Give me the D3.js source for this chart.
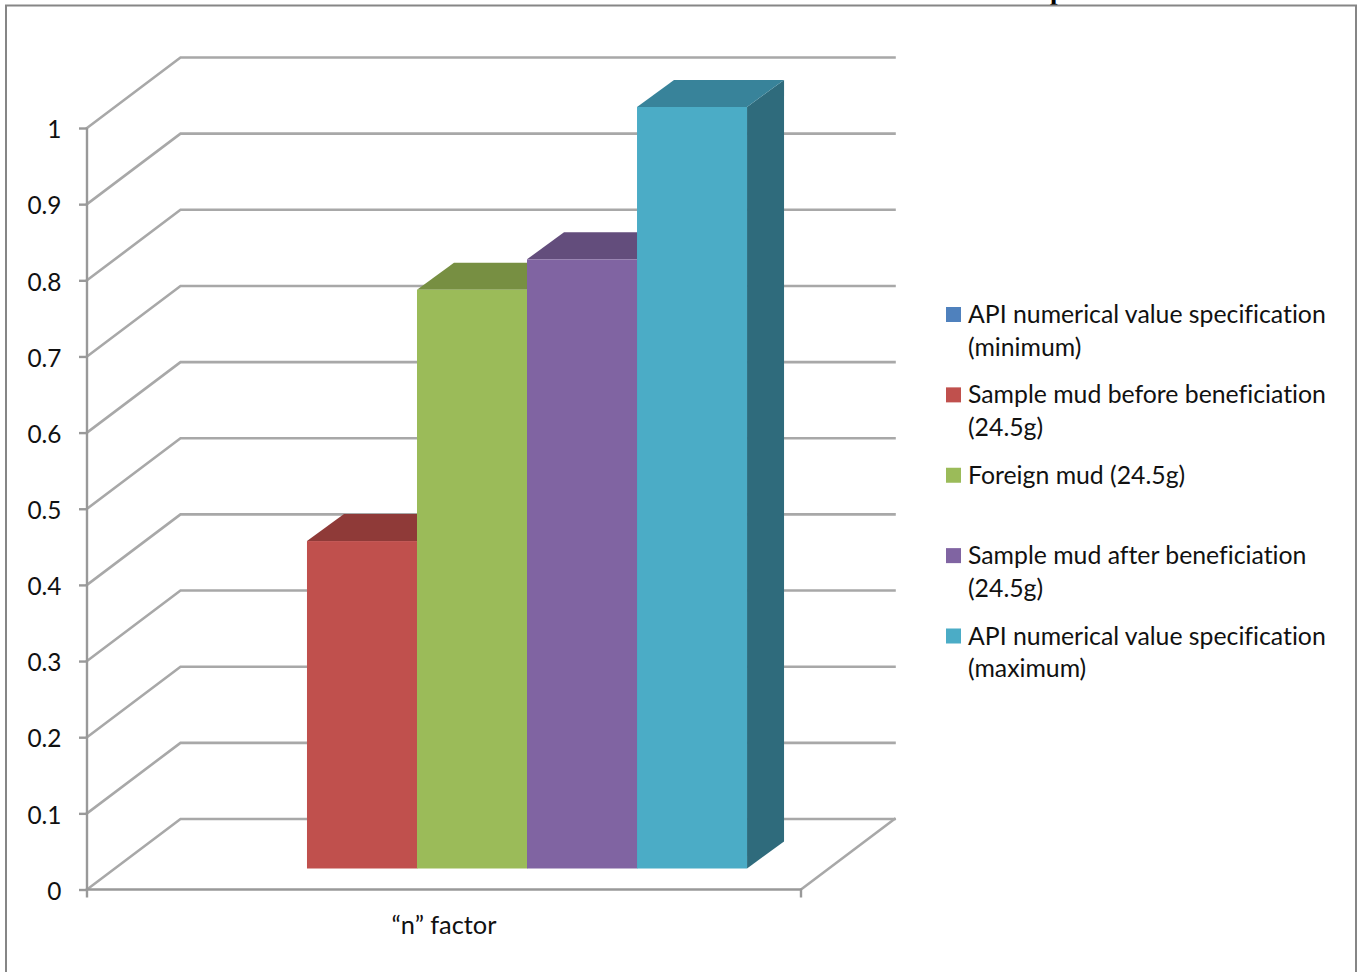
<!DOCTYPE html>
<html>
<head>
<meta charset="utf-8">
<script src="https://cdn.jsdelivr.net/npm/d3@7"></script>
<style>
  html, body { margin: 0; padding: 0; background: #fff; overflow: hidden; }
  svg { display: block; }
  text { font-family: Lato, "Open Sans", sans-serif; fill: #111; font-variant-ligatures: none; }
</style>
</head>
<body>
<svg id="chart" width="1363" height="972"></svg>
<script>
// Chart content
const categories = ["\u201Cn\u201D factor"];
const seriesNames = [
  "API numerical value specification (minimum)",
  "Sample mud before beneficiation (24.5g)",
  "Foreign mud (24.5g)",
  "Sample mud after beneficiation (24.5g)",
  "API numerical value specification (maximum)"
];
const legendLines = [
  ["API numerical value specification", "(minimum)"],
  ["Sample mud before beneficiation", "(24.5g)"],
  ["Foreign mud (24.5g)"],
  ["Sample mud after beneficiation", "(24.5g)"],
  ["API numerical value specification", "(maximum)"]
];
const seriesValues = [0, 0.43, 0.76, 0.8, 1];
const tickValues = [0, 0.1, 0.2, 0.3, 0.4, 0.5, 0.6, 0.7, 0.8, 0.9, 1];
const frontColors = ["#4F81BD", "#C0504D", "#9BBB59", "#8064A2", "#4BACC6"];
const topColors = ["#3B6190", "#8F3A38", "#778F42", "#634D7C", "#38839A"];
const sideColors = ["#2F4D72", "#722E2D", "#5D7034", "#4C3B60", "#2F6B7C"];

const svg = d3.select("#chart");

// Oblique projection of the 3-D box: floor depth, and where the bars stand in it
const wallDx = 93.5, wallDy = -70.5;
const barInsetDx = 28, barInsetDy = -21;
const barDepthDx = 37, barDepthDy = -27;

const y = d3.scaleLinear().domain([0, 1]).range([889.5, 128]);
const xCat = d3.scaleBand().domain(categories).range([87, 801]);
const xSeries = d3.scaleBand()
  .domain(seriesNames)
  .range([xCat(categories[0]) + barInsetDx, xCat(categories[0]) + xCat.bandwidth() + barInsetDx])
  .paddingInner(0)
  .paddingOuter(0.745);

const axisColor = "#999999";
const gridColor = "#a8a8a8";
const labelSize = "24.4px";
const legendSize = "24.8px";
const x0 = xCat.range()[0];
const x1 = xCat.range()[1];

// Clipped title descender above the outer frame
svg.append("text")
  .attr("x", 1057.5).attr("y", -1)
  .attr("text-anchor", "middle")
  .style("font-family", "'Liberation Serif', serif")
  .style("font-weight", "bold")
  .style("font-size", "27px")
  .style("fill", "#000")
  .text("p");

// Outer chart frame, running off the bottom of the page
svg.append("path")
  .attr("d", "M6,973 V5.5 H1356 V973")
  .attr("fill", "none")
  .attr("stroke", "#868686")
  .attr("stroke-width", 2);

// Gridlines: up the side wall, then along the back wall
svg.append("g").selectAll("path")
  .data(tickValues)
  .join("path")
  .attr("fill", "none")
  .attr("stroke", gridColor)
  .attr("stroke-width", 2.6)
  .attr("stroke-linecap", "square")
  .attr("d", d => d3.line()([
    [x0, y(d)],
    [x0 + wallDx, y(d) + wallDy],
    [x1 + wallDx, y(d) + wallDy]
  ]));

// Right edge of the floor
svg.append("path")
  .attr("fill", "none")
  .attr("stroke", gridColor)
  .attr("stroke-width", 2.6)
  .attr("stroke-linecap", "square")
  .attr("d", d3.line()([[x1, y(0)], [x1 + wallDx, y(0) + wallDy]]));

// Value axis with its tick labels
const yAxis = svg.append("g")
  .attr("transform", `translate(${x0},0)`)
  .call(d3.axisLeft(y).tickValues(tickValues).tickSize(8).tickSizeOuter(0).tickPadding(17.5).tickFormat(d3.format("~g")));
yAxis.selectAll("path, line").attr("stroke", axisColor).attr("stroke-width", 2.4);
yAxis.selectAll("text")
  .attr("dy", "0.4em")
  .style("font-size", labelSize)
  .attr("fill", "#111");
yAxis.select(".domain").attr("d", `M0,${y(1)}V${y(0)}`);

// Category axis along the front of the floor
const xAxis = svg.append("g")
  .attr("transform", `translate(0,${y(0)})`)
  .call(d3.axisBottom(xCat).tickSize(0).tickPadding(26));
xAxis.select(".domain").attr("d", `M${x0},8V0H${x1}V8`).attr("stroke", axisColor).attr("stroke-width", 2.4).attr("fill", "none");
xAxis.selectAll("text").style("font-size", "25.4px").attr("fill", "#111");

// 3-D bars, left to right so each front face hides its neighbour's side face
const barBase = y(0) + barInsetDy;
const barY = v => y(v) + barInsetDy;
const bars = seriesNames.map((name, i) => ({ name, value: seriesValues[i], i })).filter(d => d.value > 0);

const barG = svg.append("g").selectAll("g").data(bars).join("g");
barG.append("path")
  .attr("fill", d => sideColors[d.i])
  .attr("d", d => {
    const r = xSeries(d.name) + xSeries.bandwidth();
    return d3.line()([[r, barBase], [r + barDepthDx, barBase + barDepthDy], [r + barDepthDx, barY(d.value) + barDepthDy], [r, barY(d.value)]]) + "Z";
  });
barG.append("path")
  .attr("fill", d => topColors[d.i])
  .attr("d", d => {
    const l = xSeries(d.name), r = l + xSeries.bandwidth(), t = barY(d.value);
    return d3.line()([[l, t], [l + barDepthDx, t + barDepthDy], [r + barDepthDx, t + barDepthDy], [r, t]]) + "Z";
  });
barG.append("rect")
  .attr("fill", d => frontColors[d.i])
  .attr("x", d => xSeries(d.name))
  .attr("width", xSeries.bandwidth())
  .attr("y", d => barY(d.value))
  .attr("height", d => barBase - barY(d.value));

// Legend
const legendY = d3.scalePoint().domain(seriesNames).range([314.5, 636]);
const legend = svg.append("g").selectAll("g")
  .data(seriesNames)
  .join("g")
  .attr("transform", d => `translate(946,${legendY(d)})`);
legend.append("rect")
  .attr("y", -7.5).attr("width", 15).attr("height", 15)
  .attr("fill", (d, i) => frontColors[i]);
legend.each(function (d, i) {
  d3.select(this).selectAll("text")
    .data(legendLines[i])
    .join("text")
    .attr("x", 22)
    .attr("y", (l, j) => 8.5 + j * 32.5)
    .style("font-size", legendSize)
    .text(l => l);
});
</script>
</body>
</html>
